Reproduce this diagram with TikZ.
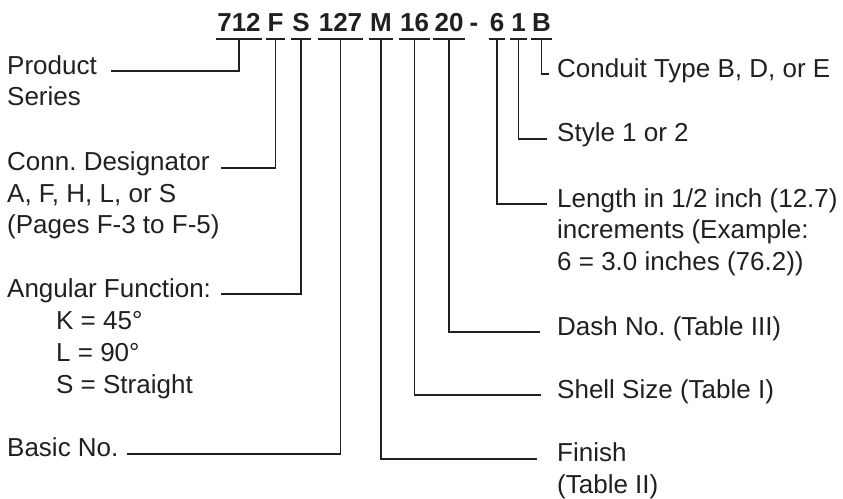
\documentclass[tikz,border=0pt]{standalone}
\usepackage{fontspec}
\setmainfont{Liberation Sans}
\definecolor{ink}{RGB}{35,31,32}
\frenchspacing
\begin{document}
\begin{tikzpicture}[x=1pt,y=-1pt,
  code/.style={font=\fontsize{26}{31}\selectfont\bfseries, inner ysep=0pt, inner xsep=1pt, anchor=base, text=ink},
  lab/.style={font=\fontsize{26}{31}\selectfont, inner sep=0pt, anchor=base west, text=ink, text height=0.72em, text depth=0.1em},
  wire/.style={draw=ink, line width=1.8pt},
]
\useasboundingbox (0,0) rectangle (843,498);
% code
\node[code] (c712) at (239,31) {712};
\node[code] (cF) at (275.5,31) {F};
\node[code] (cS) at (301,31) {S};
\node[code] (c127) at (340.5,31) {127};
\node[code] (cM) at (381,31) {M};
\node[code] (c16) at (414.5,31) {16};
\node[code] (c20) at (449,31) {20};
\node[code] (cdash) at (474,31) {-};
\node[code] (c6) at (497,31) {6};
\node[code] (c1) at (518.5,31) {1};
\node[code] (cB) at (541.5,31) {B};
\foreach \n in {712,F,S,127,M,16,20,6,1,B}{
  \draw[wire] ([yshift=-8.3pt]c\n.base west) -- ([yshift=-8.3pt]c\n.base east);
  \coordinate (u\n) at ([yshift=-8.3pt]c\n.base);
}
% left labels
\node[lab] (product) at (7,74) {Product};
\node[lab] (productB) at (7,105.5) {Series};
\node[lab] (conn) at (7,170.7) {Conn. Designator};
\node[lab] (connB) at (7,202) {A, F, H, L, or S};
\node[lab] (connC) at (7,233.5) {(Pages F-3 to F-5)};
\node[lab] (ang) at (7,297.3) {Angular Function:};
\node[lab] (angK) at (56,329.3) {K = 45°};
\node[lab] (angL) at (56,361) {L = 90°};
\node[lab] (angS) at (56,393) {S = Straight};
\node[lab] (basic) at (7,456.7) {Basic No.};
% right labels
\node[lab] (conduit) at (557,77) {Conduit Type B, D, or E};
\node[lab] (style) at (557,141.7) {Style 1 or 2};
\node[lab] (len) at (557,207) {Length in 1/2 inch (12.7)};
\node[lab] (lenB) at (557,238.5) {increments (Example:};
\node[lab] (lenC) at (557,270) {6 = 3.0 inches (76.2))};
\node[lab] (dash) at (557,335) {Dash No. (Table III)};
\node[lab] (shell) at (557,398.3) {Shell Size (Table I)};
\node[lab] (finish) at (557,461.7) {Finish};
\node[lab] (finishB) at (557,493) {(Table II)};
% connectors left
\draw[wire] ([xshift=14pt]product.east) -| (u712);
\draw[wire] ([xshift=11pt]conn.east) -| (uF);
\draw[wire] ([xshift=10pt]ang.east) -| (uS);
\draw[wire] ([xshift=8pt]basic.east) -| (u127);
% connectors right
\draw[wire] (uM) |- ([xshift=-20pt]finish.west);
\draw[wire] (u16) |- ([xshift=-16pt]shell.west);
\draw[wire] (u20) |- ([xshift=-17pt]dash.west);
\draw[wire] (u6) |- ([xshift=-10pt]len.west);
\draw[wire] (u1) |- ([xshift=-10pt]style.west);
\draw[wire] (uB) |- ([xshift=-8pt]conduit.west);
\end{tikzpicture}
\end{document}
